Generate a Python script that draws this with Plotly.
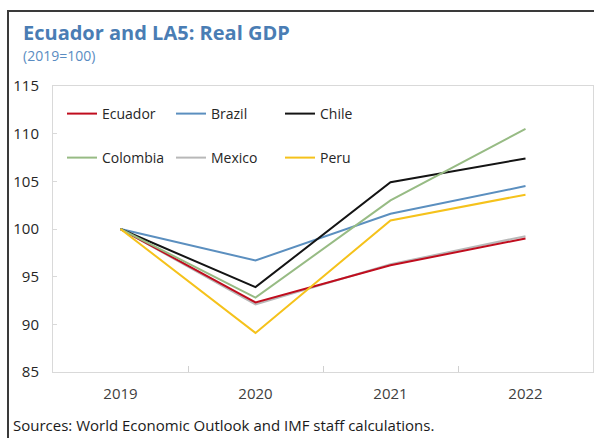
import plotly.graph_objects as go

years = ["2019", "2020", "2021", "2022"]
ecuador = [100, 92.3, 96.2, 99.0]
brazil = [100, 96.7, 101.6, 104.5]
chile = [100, 93.9, 104.9, 107.4]
colombia = [100, 92.8, 103.0, 110.5]
mexico = [100, 92.1, 96.3, 99.25]
peru = [100, 89.1, 100.9, 103.6]

series = [
    ("Ecuador", ecuador, "#c00d1e", "legend"),
    ("Brazil", brazil, "#5b8fbf", "legend"),
    ("Chile", chile, "#141414", "legend"),
    ("Colombia", colombia, "#97bb84", "legend2"),
    ("Mexico", mexico, "#b8b8b8", "legend2"),
    ("Peru", peru, "#f5c21b", "legend2"),
]
draw_order = ["Mexico", "Ecuador", "Brazil", "Chile", "Colombia", "Peru"]

W, H = 594, 438
ML, MR, MT, MB = 53, 1, 86, 66
PW, PH = W - ML - MR, H - MT - MB

def px(x):
    return (x - ML) / PW

def py(y):
    return 1 - (y - MT) / PH

fig = go.Figure()
names = [s[0] for s in series]
for name in draw_order:
    _, vals, color, leg = series[names.index(name)]
    fig.add_trace(go.Scatter(
        x=years, y=vals, name=name, mode="lines",
        line=dict(color=color, width=2), legend=leg,
        legendrank=names.index(name),
    ))

font = "Open Sans"
leg_common = dict(orientation="h", xanchor="left", yanchor="top", entrywidth=64,
                  font=dict(size=14, family=font, color="#262626"),
                  bgcolor="rgba(0,0,0,0)", borderwidth=0, traceorder="normal")
fig.update_layout(
    width=W, height=H,
    margin=dict(l=ML, r=MR, t=MT, b=MB),
    paper_bgcolor="white", plot_bgcolor="white",
    font=dict(family=font, color="#262626"),
    showlegend=True,
    legend=dict(x=px(62), y=py(98), **leg_common),
    legend2=dict(x=px(62), y=py(142), **leg_common),
    xaxis=dict(type="category", categoryorder="array", categoryarray=years,
               range=[-0.5, 3.5],
               tickson="boundaries", ticks="inside", ticklen=6, tickcolor="#d0d0d0",
               showline=True, mirror=True, linecolor="#d9d9d9", linewidth=1,
               showgrid=False, zeroline=False, ticklabelstandoff=8,
               tickfont=dict(size=15, color="#404040")),
    yaxis=dict(range=[85, 115], dtick=5, tick0=85, ticks="inside", ticklen=4,
               tickcolor="#d9d9d9", showline=True, mirror=True, linecolor="#d9d9d9",
               linewidth=1, showgrid=False, zeroline=False, ticklabelstandoff=10,
               tickfont=dict(size=15, color="#262626")),
)

fig.add_annotation(text="<b>Ecuador and LA5: Real GDP</b>", xref="paper", yref="paper",
                   x=px(21), y=py(33), xanchor="left", yanchor="middle", showarrow=False,
                   font=dict(size=20, color="#4a7db4", family=font))
fig.add_annotation(text="(2019=100)", xref="paper", yref="paper",
                   x=px(21), y=py(56), xanchor="left", yanchor="middle", showarrow=False,
                   font=dict(size=14, color="#5a8cc2", family=font))
fig.add_annotation(text="Sources: World Economic Outlook and IMF staff calculations.",
                   xref="paper", yref="paper", x=px(11), y=py(425), xanchor="left",
                   yanchor="middle", showarrow=False,
                   font=dict(size=15, color="#1a1a1a", family=font))

# outer frame (top and left edges)
fig.add_shape(type="line", xref="paper", yref="paper", x0=px(8), x1=px(W + 2),
              y0=py(11), y1=py(11), line=dict(color="#3a3a3a", width=2))
fig.add_shape(type="line", xref="paper", yref="paper", x0=px(8), x1=px(8),
              y0=py(10), y1=py(H + 2), line=dict(color="#3a3a3a", width=2))

fig.write_html("out.html", config={"displayModeBar": False},
               post_script="document.body.style.margin='0';")
